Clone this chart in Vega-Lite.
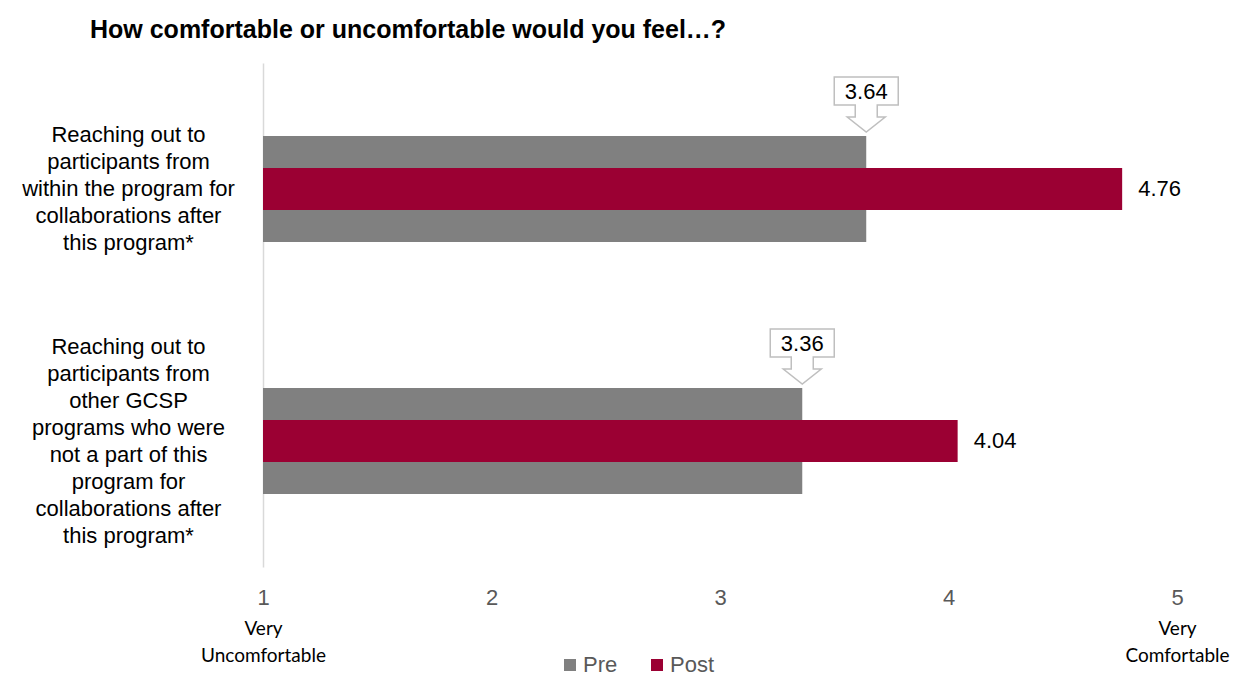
{
  "$schema": "https://vega.github.io/schema/vega-lite/v6.json",
  "width": 914,
  "height": 504,
  "autosize": "none",
  "padding": {"left": 263, "top": 63, "right": 59, "bottom": 110},
  "background": "white",
  "title": {
    "text": "How comfortable or uncomfortable would you feel…?",
    "anchor": "start",
    "frame": "group",
    "dx": -173,
    "offset": 20,
    "font": "Liberation Sans",
    "fontSize": 25,
    "fontWeight": "bold",
    "color": "#000000"
  },
  "data": {
    "values": [
      {"item": "Reaching out to participants from within the program for collaborations after this program*", "series": "Pre", "value": 3.64},
      {"item": "Reaching out to participants from within the program for collaborations after this program*", "series": "Post", "value": 4.76},
      {"item": "Reaching out to participants from other GCSP programs who were not a part of this program for collaborations after this program*", "series": "Pre", "value": 3.36},
      {"item": "Reaching out to participants from other GCSP programs who were not a part of this program for collaborations after this program*", "series": "Post", "value": 4.04}
    ]
  },
  "encoding": {
    "y": {
      "field": "item",
      "type": "nominal",
      "sort": null,
      "scale": {"paddingInner": 0, "paddingOuter": 0},
      "axis": {
        "title": null,
        "ticks": false,
        "tickSize": 0,
        "domain": true,
        "domainColor": "#D9D9D9",
        "domainWidth": 1.5,
        "labelAlign": "center",
        "labelBaseline": "middle",
        "labelPadding": 135,
        "labelFont": "Liberation Sans",
        "labelFontSize": 22,
        "labelColor": "#000000",
        "labelLineHeight": 27,
        "labelLimit": 400,
        "labelOffset": {
          "condition": {"test": "datum.value == 'Reaching out to participants from within the program for collaborations after this program*'", "value": -54},
          "value": -94.5
        },
        "labelExpr": "datum.label == 'Reaching out to participants from within the program for collaborations after this program*' ? ['Reaching out to', 'participants from', 'within the program for', 'collaborations after', 'this program*'] : ['Reaching out to', 'participants from', 'other GCSP', 'programs who were', 'not a part of this', 'program for', 'collaborations after', 'this program*']"
      }
    }
  },
  "layer": [
    {
      "transform": [{"filter": "datum.series == 'Pre'"}],
      "mark": {"type": "bar", "size": 106},
      "encoding": {
        "x": {
          "field": "value",
          "type": "quantitative",
          "scale": {"domain": [1, 5], "nice": false, "zero": false},
          "axis": {
            "orient": "bottom",
            "title": null,
            "values": [1, 2, 3, 4, 5],
            "format": "d",
            "grid": false,
            "domain": false,
            "ticks": false,
            "tickSize": 0,
            "labelFlush": false,
            "labelPadding": 20,
            "labelFont": "Liberation Sans",
            "labelFontSize": 22,
            "labelColor": "#595959"
          }
        },
        "x2": {"datum": 1},
        "color": {
          "field": "series",
          "type": "nominal",
          "scale": {"domain": ["Pre", "Post"], "range": ["#808080", "#9B0033"]},
          "legend": {
            "orient": "none",
            "legendX": 296,
            "legendY": 591,
            "direction": "horizontal",
            "title": null,
            "padding": 0,
            "symbolType": "square",
            "symbolSize": 144,
            "symbolStrokeWidth": 0,
            "labelFont": "Liberation Sans",
            "labelFontSize": 22,
            "labelColor": "#595959",
            "labelOffset": 2,
            "columnPadding": 28
          }
        }
      }
    },
    {
      "transform": [{"filter": "datum.series == 'Post'"}],
      "mark": {"type": "bar", "size": 42},
      "encoding": {
        "x": {"field": "value", "type": "quantitative", "axis": null},
        "x2": {"datum": 1},
        "color": {"field": "series", "type": "nominal"}
      }
    },
    {
      "transform": [{"filter": "datum.series == 'Post'"}],
      "mark": {"type": "text", "align": "left", "baseline": "middle", "dx": 16, "font": "Liberation Sans", "fontSize": 22, "color": "#000000"},
      "encoding": {
        "x": {"field": "value", "type": "quantitative", "axis": null},
        "text": {"field": "value", "type": "quantitative", "format": ".2f"}
      }
    },
    {
      "transform": [{"filter": "datum.series == 'Pre'"}],
      "mark": {
        "type": "point",
        "shape": "M-32,-112 L32,-112 L32,-84 L11,-84 L11,-72 L19,-72 L0,-57 L-19,-72 L-11,-72 L-11,-84 L-32,-84 Z",
        "size": 4,
        "filled": true,
        "fill": "white",
        "stroke": "#BFBFBF",
        "strokeWidth": 1.5,
        "opacity": 1
      },
      "encoding": {
        "x": {"field": "value", "type": "quantitative", "axis": null}
      }
    },
    {
      "transform": [{"filter": "datum.series == 'Pre'"}],
      "mark": {"type": "text", "align": "center", "baseline": "middle", "dy": -97, "font": "Liberation Sans", "fontSize": 22, "color": "#000000"},
      "encoding": {
        "x": {
          "field": "value",
          "type": "quantitative",
          "axis": {
            "orient": "bottom",
            "title": null,
            "values": [1, 5],
            "grid": false,
            "domain": false,
            "ticks": false,
            "tickSize": 0,
            "labelPadding": 52,
            "labelBaseline": "top",
            "labelAlign": "center",
            "labelFont": "Lato",
            "labelFontSize": 19,
            "labelColor": "#000000",
            "labelLineHeight": 27,
            "labelOverlap": false,
            "labelBound": false,
            "labelFlush": false,
            "labelExpr": "datum.value == 1 ? ['Very', 'Uncomfortable'] : ['Very', 'Comfortable']"
          }
        },
        "text": {"field": "value", "type": "quantitative", "format": ".2f"}
      }
    }
  ],
  "resolve": {"axis": {"x": "independent"}},
  "config": {
    "view": {"stroke": null},
    "axis": {"grid": false}
  }
}
